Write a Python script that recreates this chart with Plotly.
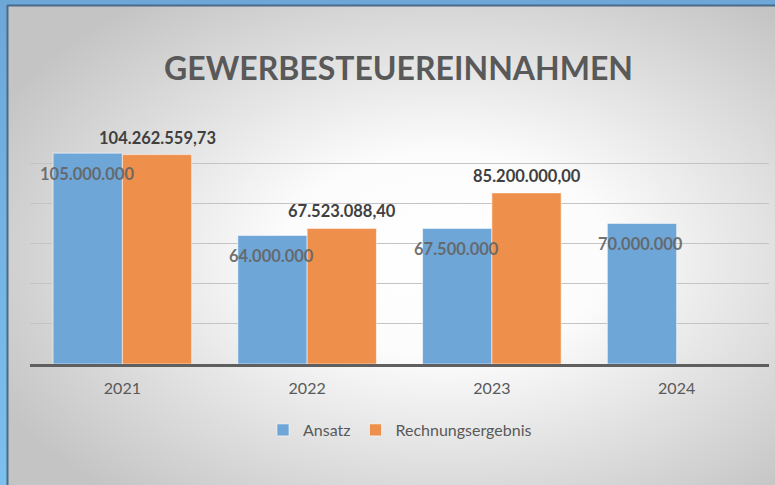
import base64
import plotly.graph_objects as go

years = ["2021", "2022", "2023", "2024"]
ansatz = [105000000, 64000000, 67500000, 70000000]
rechnung = [104262559.73, 67523088.40, 85200000.00, None]
title_text = "GEWERBESTEUEREINNAHMEN"
series_names = ["Ansatz", "Rechnungsergebnis"]

W, H = 775, 485
PLOT_L, PLOT_R, PLOT_T, PLOT_B = 30, 769, 122, 364
Y_MAX = 120500000


def de_fmt(v, decimals):
    s = f"{v:,.{decimals}f}"
    return s.replace(",", "X").replace(".", ",").replace("X", ".")


svg = f"""<svg xmlns="http://www.w3.org/2000/svg" width="{W}" height="{H}" viewBox="0 0 {W} {H}" preserveAspectRatio="none">
<defs>
<radialGradient id="g" cx="0.57" cy="0.52" r="0.66">
<stop offset="0" stop-color="#ffffff"/>
<stop offset="0.32" stop-color="#fcfcfc"/>
<stop offset="1" stop-color="#c4c4c4"/>
</radialGradient>
<linearGradient id="b" x1="0" y1="0" x2="0" y2="1">
<stop offset="0" stop-color="#6da7d8"/>
<stop offset="1" stop-color="#7cc0ee"/>
</linearGradient>
</defs>
<rect x="0" y="0" width="{W}" height="{H}" fill="url(#b)"/>
<rect x="7" y="5" width="{W-7}" height="{H-5}" fill="url(#g)"/>
<line x1="7.5" y1="5" x2="7.5" y2="{H}" stroke="#4a6a88" stroke-width="2"/>
<line x1="7" y1="5.5" x2="{W}" y2="5.5" stroke="#4a6a88" stroke-width="2"/>
</svg>"""
bg_uri = "data:image/svg+xml;base64," + base64.b64encode(svg.encode()).decode()

blue = "rgb(111,166,216)"
orange = "rgb(238,143,75)"

fig = go.Figure()
fig.add_trace(go.Bar(x=years, y=ansatz, name=series_names[0], marker_color=blue,
                     marker_line=dict(color="rgba(255,255,255,0.55)", width=1)))
fig.add_trace(go.Bar(x=years, y=rechnung, name=series_names[1], marker_color=orange,
                     marker_line=dict(color="rgba(255,255,255,0.55)", width=1)))

bargap = 0.25
cat_px = (PLOT_R - PLOT_L) / len(years)
bar_px = cat_px * (1 - bargap) / 2

annotations = []
for i, v in enumerate(ansatz):
    annotations.append(dict(x=i, y=v, xref="x", yref="y", text=de_fmt(v, 0), showarrow=False,
                            xshift=-bar_px / 2 - 1, yshift=-21, yanchor="middle",
                            font=dict(family="Lato", size=16.5, color="rgba(100,100,100,0.92)", weight="bold")))
for i, v in enumerate(rechnung):
    if v is None:
        continue
    annotations.append(dict(x=i, y=v, xref="x", yref="y", text=de_fmt(v, 2), showarrow=False,
                            xshift=bar_px / 2, yshift=17, yanchor="middle",
                            font=dict(family="Lato", size=16.5, color="#404040", weight="bold")))

annotations.append(dict(x=398 / W, y=1 - 68 / H, xref="paper", yref="paper", text=title_text,
                        showarrow=False, xanchor="center", yanchor="middle",
                        font=dict(family="Lato", size=32, color="#595959", weight="bold")))

fig.update_layout(
    width=W, height=H,
    margin=dict(l=0, r=0, t=0, b=0, autoexpand=False),
    paper_bgcolor="rgba(0,0,0,0)",
    plot_bgcolor="rgba(0,0,0,0)",
    barmode="group", bargap=bargap, bargroupgap=0,
    font=dict(family="Lato", color="#595959", size=16),
    images=[dict(source=bg_uri, xref="paper", yref="paper", x=0, y=1, sizex=1, sizey=1,
                 sizing="stretch", layer="below", xanchor="left", yanchor="top")],
    annotations=annotations,
    showlegend=True,
    legend=dict(orientation="h", x=400 / W, y=1 - 430 / H, xanchor="center", yanchor="middle",
                bgcolor="rgba(0,0,0,0)", font=dict(family="Lato", size=16, color="#595959"),
                itemwidth=30, tracegroupgap=0),
    xaxis=dict(type="category", domain=[PLOT_L / W, PLOT_R / W], showline=True,
               linecolor="#5f5f5f", linewidth=3, automargin=False, range=[-0.5, len(years) - 0.5],
               ticks="", showgrid=False, ticklabelstandoff=8,
               tickfont=dict(family="Lato", size=16, color="#595959")),
    yaxis=dict(domain=[(H - PLOT_B) / H, (H - PLOT_T) / H], range=[0, Y_MAX], dtick=20000000,
               showticklabels=False, showgrid=True, gridcolor="#c4c4c4", gridwidth=1,
               zeroline=False, showline=False, ticks="", automargin=False),
)

fig.write_html("out.html", config={"displayModeBar": False},
               post_script="document.body.style.margin='0';")
